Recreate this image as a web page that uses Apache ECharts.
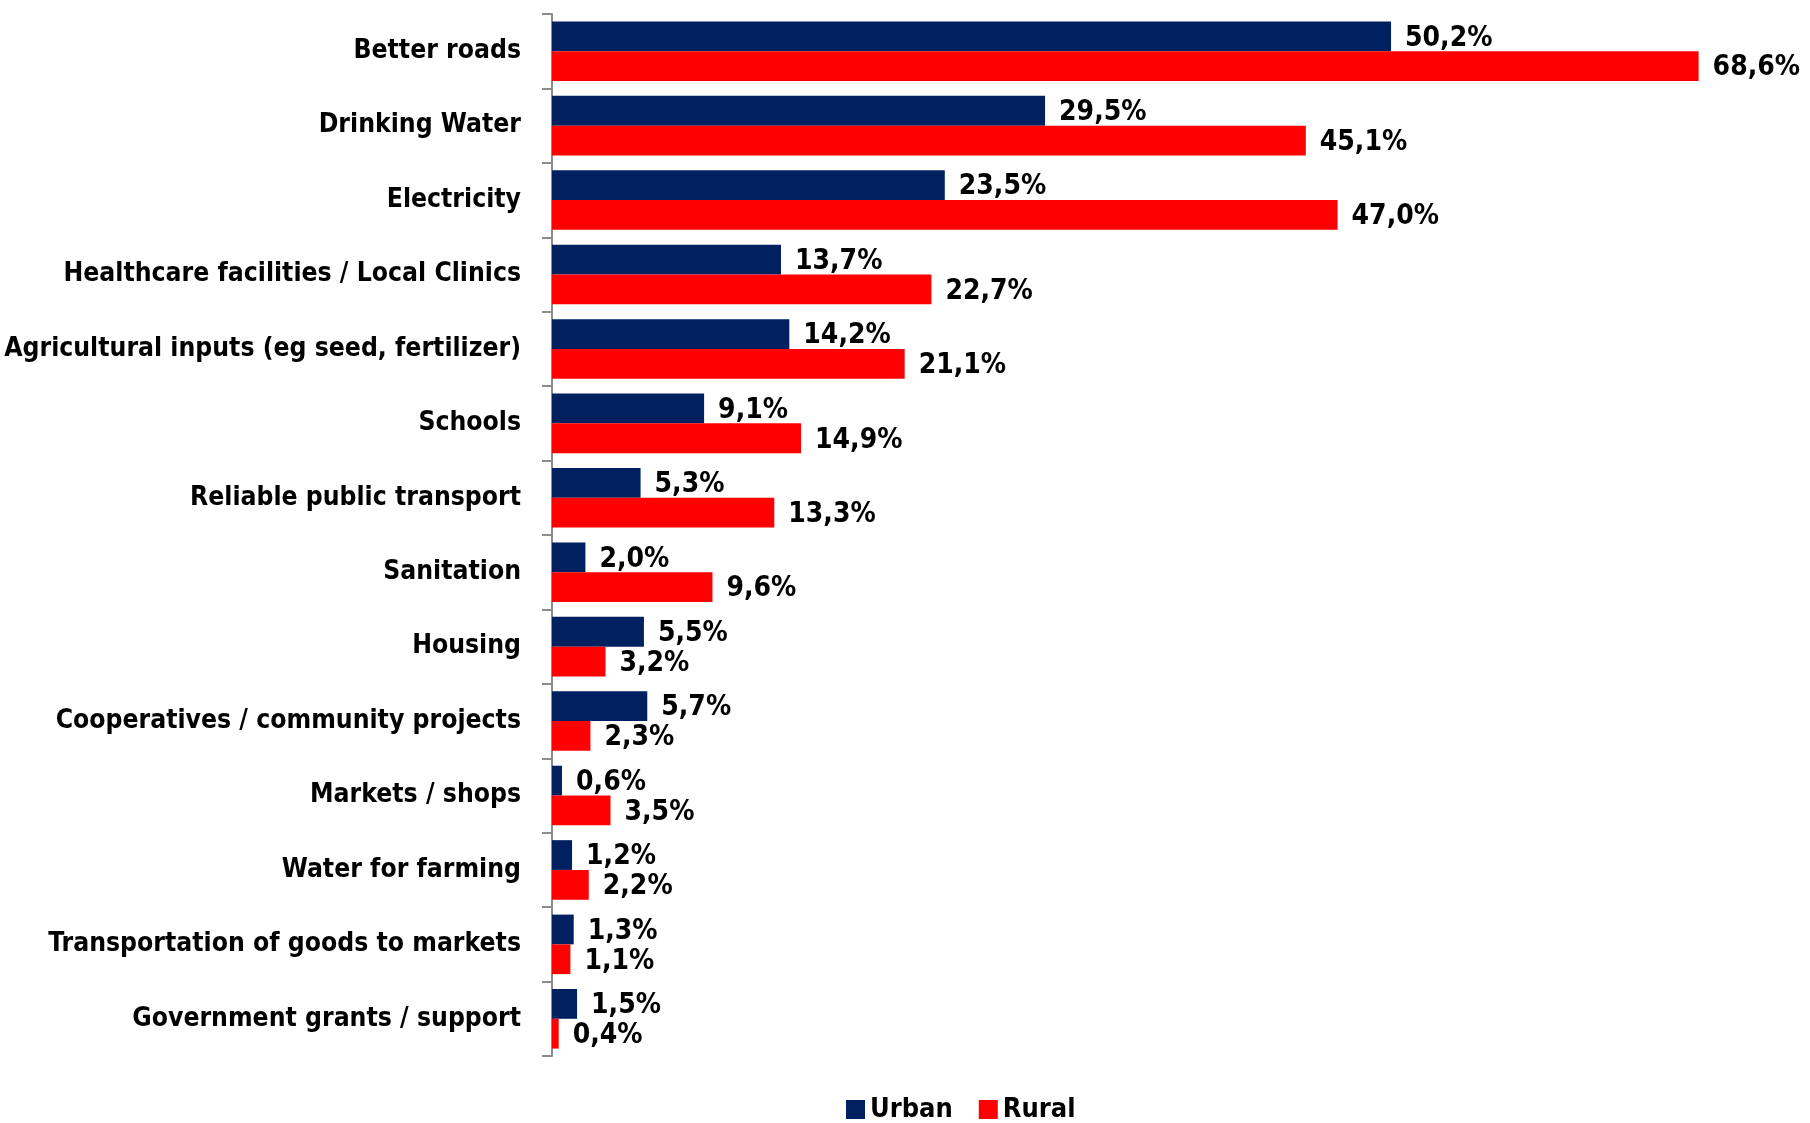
<!DOCTYPE html>
<html>
<head>
<meta charset="utf-8">
<script src="https://cdn.jsdelivr.net/npm/echarts@6/dist/echarts.min.js"></script>
<style>
  html, body { margin: 0; padding: 0; background: #ffffff; }
  #chart { width: 1810px; height: 1123px; }
</style>
</head>
<body>
<div id="chart"></div>
<script>
// Infrastructure priorities, share of respondents (%)
const categories = [
  'Better roads',
  'Drinking Water',
  'Electricity',
  'Healthcare facilities / Local Clinics',
  'Agricultural inputs (eg seed, fertilizer)',
  'Schools',
  'Reliable public transport',
  'Sanitation',
  'Housing',
  'Cooperatives / community projects',
  'Markets / shops',
  'Water for farming',
  'Transportation of goods to markets',
  'Government grants / support'
];
const urban = [50.2, 29.5, 23.5, 13.7, 14.2, 9.1, 5.3, 2.0, 5.5, 5.7, 0.6, 1.2, 1.3, 1.5];
const rural = [68.6, 45.1, 47.0, 22.7, 21.1, 14.9, 13.3, 9.6, 3.2, 2.3, 3.5, 2.2, 1.1, 0.4];

const FONT = '"DejaVu Sans Condensed", "Noto Sans", sans-serif';

const pct = p => p.value.toFixed(1).replace('.', ',') + '%';

const valueLabel = {
  show: true,
  position: 'right',
  distance: 14,
  offset: [0, 2],
  formatter: pct,
  color: '#000000',
  fontFamily: FONT,
  fontWeight: 'bold',
  fontSize: 28
};

const chart = echarts.init(document.getElementById('chart'), null, { renderer: 'canvas' });
chart.setOption({
  animation: false,
  backgroundColor: '#ffffff',
  grid: {
    left: 552, right: 88, top: 14, bottom: 67,
    containLabel: false,
    outerBoundsMode: 'none'
  },
  legend: {
    top: 1091,
    left: 841,
    itemWidth: 19,
    itemHeight: 19,
    itemGap: 26,
    icon: 'rect',
    textStyle: { fontFamily: FONT, fontWeight: 'bold', fontSize: 27, color: '#000000' },
    data: ['Urban', 'Rural']
  },
  xAxis: {
    type: 'value',
    min: 0,
    max: 70,
    show: false,
    splitLine: { show: false }
  },
  yAxis: {
    type: 'category',
    data: categories,
    inverse: true,
    axisLine: { show: true, lineStyle: { color: '#8c8c8c', width: 2 } },
    axisTick: { show: true, length: 10, lineStyle: { color: '#8c8c8c', width: 2 } },
    axisLabel: {
      margin: 31,
      color: '#000000',
      fontFamily: FONT,
      fontWeight: 'bold',
      fontSize: 26.3
    }
  },
  series: [
    {
      name: 'Urban',
      type: 'bar',
      data: urban,
      barGap: '0%',
      barCategoryGap: '20%',
      itemStyle: { color: '#002060' },
      label: valueLabel
    },
    {
      name: 'Rural',
      type: 'bar',
      data: rural,
      barGap: '0%',
      barCategoryGap: '20%',
      itemStyle: { color: '#ff0000' },
      label: valueLabel
    }
  ]
});
</script>
</body>
</html>
